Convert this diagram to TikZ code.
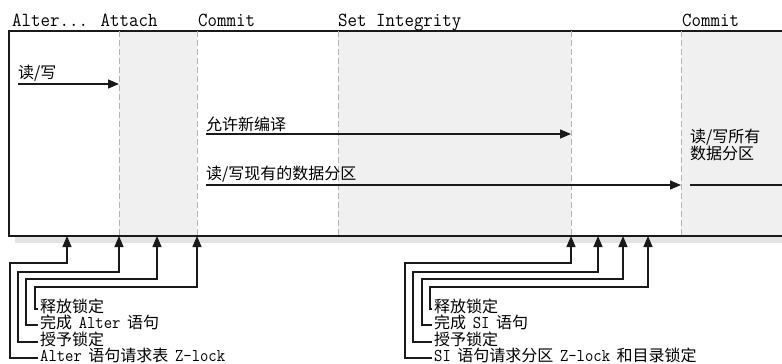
\documentclass[tikz,border=0pt]{standalone}
\usepackage{fontspec}
\usepackage{graphicx}
\newfontfamily\cjk{Noto Sans CJK SC}
\usetikzlibrary{arrows.meta}
\definecolor{lkshade}{HTML}{F0F0F0}
\definecolor{lkdash}{HTML}{B4B4B4}
\definecolor{lkshadow}{HTML}{E4E4E4}
\definecolor{lkline}{HTML}{1A1A1A}
\newcommand\lkmono[1]{\hspace{3pt}\scalebox{0.9}[1]{\fontsize{18}{18}\selectfont\ttfamily #1}\hspace{3pt}}
\newcommand\lkhead[1]{\scalebox{0.92}[1]{\fontsize{20}{22}\selectfont\ttfamily #1}}

\begin{document}
\begin{tikzpicture}[x=1pt, y=-1pt,
  phase/.style={anchor=base west, inner sep=0pt},
  flowlbl/.style={anchor=south west, inner xsep=0pt, inner ysep=2pt, font=\fontsize{16}{16}\selectfont\cjk},
  locklbl/.style={anchor=base west, inner xsep=2pt, inner ysep=0pt, font=\fontsize{16}{16}\selectfont\cjk},
  arr/.style={-{Triangle[length=11pt,width=9pt]}, lkline, line width=1.4pt},
  sep/.style={lkdash, line width=1pt, dash pattern=on 6pt off 3pt}
]
  \clip (0,0) rectangle (782,364);

  \fill[lkshade] (119,31) rectangle (197,236);
  \fill[lkshade] (338,31) rectangle (571,236);
  \fill[lkshade] (681,31) rectangle (790,236);
  \fill[lkshadow] (15,237) rectangle (790,243);
  \draw[lkline, line width=1.5pt] (790,31) -- (9,31) -- (9,236) -- (790,236);

  \foreach \x/\n in {119/attach, 197/commita, 338/setint, 571/sidone, 681/commitb} {
    \coordinate (\n) at (\x,236);
    \draw[sep] (\x,31) -- (\n);
  }

  \node[phase] (alt) at (12,26) {\lkhead{Alter... Attach}};
  \node[phase] (cma) at (198,26) {\lkhead{Commit}};
  \node[phase] (sih) at (338,26) {\lkhead{Set Integrity}};
  \node[phase] (cmb) at (682,26) {\lkhead{Commit}};

  \node[flowlbl] (rw) at (18,84) {读/写};
  \node[flowlbl] (newc) at (206,134) {允许新编译};
  \node[flowlbl] (rwold) at (206,185) {读/写现有的数据分区};
  \node[flowlbl, anchor=north west, align=left] (rwall) at (690,127) {读/写所有\\数据分区};
  \coordinate (rwallend) at (793,185);

  \draw[arr] (rw.south west) -- (rw.south west -| attach);
  \draw[arr] (newc.south west) -- (newc.south west -| sidone);
  \draw[arr] (rwold.south west) -- (rwold.south west -| commitb);
  \draw[arr] (rwall.west |- rwold.south west) -- (rwallend);

  \node[locklbl] (lka) at (38,361) {\hspace{-3pt}\lkmono{Alter} 语句请求表 \lkmono{Z-lock}};
  \node[locklbl] (lkb) at (38,345) {授予锁定};
  \node[locklbl] (lkc) at (38,328) {完成 \lkmono{Alter} 语句};
  \node[locklbl] (lkd) at (38,312) {释放锁定};

  \node[locklbl] (ska) at (432,361) {\hspace{-3pt}\lkmono{SI} 语句请求分区 \lkmono{Z-lock} 和目录锁定};
  \node[locklbl] (skb) at (432,345) {授予锁定};
  \node[locklbl] (skc) at (432,328) {完成 \lkmono{SI} 语句};
  \node[locklbl] (skd) at (432,312) {释放锁定};

  \foreach \n/\x in {ga/67, gb/119, gc/157, gd/197, sa/571, sb/598, sc/623, sd/648}
    \coordinate (\n) at (\x,236);

  \foreach \lbl/\tip/\bx/\by in {lka/ga/10/263, lkb/gb/18/272, lkc/gc/26/279, lkd/gd/35/287,
                                 ska/sa/405/263, skb/sb/413/272, skc/sc/422/279, skd/sd/430/287}
    \draw[arr] ([yshift=3pt]\lbl.base west) -| (\bx,\by) -| (\tip);
\end{tikzpicture}
\end{document}
